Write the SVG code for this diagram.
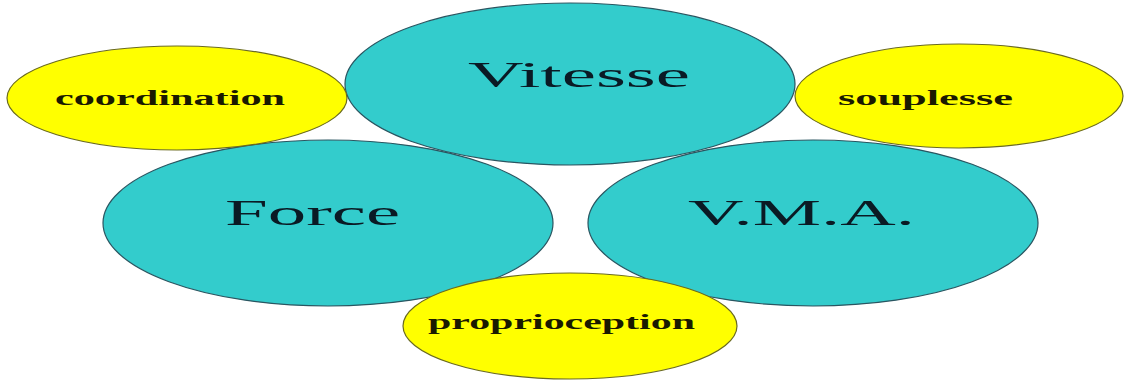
<svg xmlns="http://www.w3.org/2000/svg" width="1130" height="383" viewBox="0 0 1130 383">
<style>
.big{fill:#33CCCC;stroke:#2a5560;stroke-width:1.2}
.small{fill:#FFFF00;stroke:#6a6a20;stroke-width:1.2}
.bt{font-family:"Liberation Serif","Times New Roman",serif;font-size:36px;fill:#0a1a24}
.st{font-family:"Liberation Serif","Times New Roman",serif;font-size:21px;font-weight:bold;fill:#1a1a00}
</style>
<rect width="1130" height="383" fill="#ffffff"/>
<g id="connectors"></g>
<g id="force"><ellipse class="big" cx="328" cy="223" rx="225" ry="83"/><text class="bt" x="225" y="225" textLength="175" lengthAdjust="spacingAndGlyphs">Force</text></g>
<g id="vma"><ellipse class="big" cx="813" cy="223" rx="225" ry="83"/><text class="bt" x="688" y="225" textLength="227" lengthAdjust="spacingAndGlyphs">V.M.A.</text></g>
<g id="vitesse"><ellipse class="big" cx="570" cy="84" rx="225" ry="81"/><text class="bt" x="468" y="87" textLength="222" lengthAdjust="spacingAndGlyphs">Vitesse</text></g>
<g id="coordination"><ellipse class="small" cx="177" cy="98" rx="170" ry="52"/><text class="st" x="55" y="105" textLength="230" lengthAdjust="spacingAndGlyphs">coordination</text></g>
<g id="souplesse"><ellipse class="small" cx="959" cy="96" rx="164" ry="52"/><text class="st" x="838" y="105" textLength="175" lengthAdjust="spacingAndGlyphs">souplesse</text></g>
<g id="proprioception"><ellipse class="small" cx="570" cy="326" rx="167" ry="53"/><text class="st" x="428" y="329" textLength="267" lengthAdjust="spacingAndGlyphs">proprioception</text></g>
</svg>
